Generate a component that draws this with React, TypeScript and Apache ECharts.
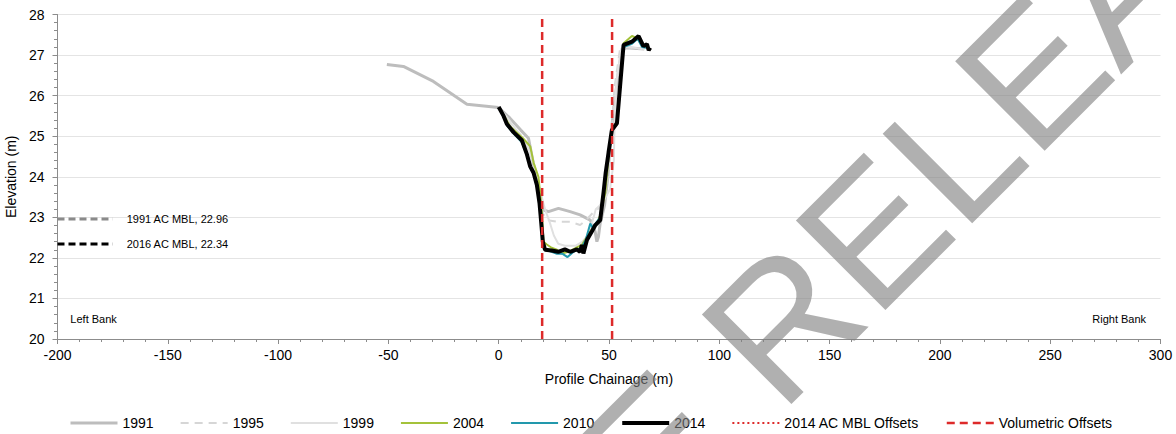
import React, { useEffect, useRef } from "react";
import * as echarts from "echarts";

// ---- data ----
const legendNames = ["1991", "1995", "1999", "2004", "2010", "2014", "2014 AC MBL Offsets", "Volumetric Offsets"];

const profile1991: number[][] = [
  [-50.7, 26.77], [-43.2, 26.72], [-29.6, 26.35], [-14.4, 25.79], [-0.1, 25.71], [5, 25.45], [10, 25.15],
  [13.5, 24.95], [15.7, 24.33], [17.3, 23.9], [18.8, 23.6], [20.3, 23.18], [22.6, 23.14], [27.1, 23.22],
  [32.4, 23.14], [36.9, 23.06], [41.5, 22.93], [43.7, 22.65], [44.5, 22.4], [45.2, 22.52], [46, 22.85],
  [48, 23.3], [49.5, 24.0], [50.5, 24.8], [52, 25.6], [54.5, 26.7], [56, 27.15], [58, 27.18], [66, 27.15],
];
const profile1995: number[][] = [
  [0, 25.7], [4, 25.4], [8, 25.15], [12, 24.9], [15, 24.45], [17, 24.05], [18.5, 23.5], [20, 23.1],
  [21.1, 22.98], [23, 22.92], [26.4, 22.89], [32.4, 22.89], [36.9, 22.81], [39, 22.9], [42.5, 23.1],
  [45.2, 23.22], [48, 23.5], [50, 24.2], [51, 25.0], [52.5, 26.2], [55, 27.15], [58, 27.2], [65, 27.15],
];
const profile1999: number[][] = [
  [0, 25.72], [4, 25.45], [8, 25.15], [12, 24.85], [15, 24.5], [17, 24.1], [18.5, 23.7], [19.5, 23.5],
  [21.1, 23.18], [23, 22.9], [25, 22.55], [27, 22.35], [30, 22.3], [35, 22.3], [38, 22.4], [41, 22.6],
  [44, 23.2], [47, 23.35], [50.5, 23.7], [52.2, 24.4], [52.6, 25.5], [53.3, 26.3], [55.5, 27.15], [58, 27.2], [66, 27.15],
];
const profile2004: number[][] = [
  [0, 25.7], [3, 25.45], [5, 25.25], [8, 25.1], [11, 24.95], [14.3, 24.75], [15.8, 24.35], [18, 24.0],
  [18.8, 23.6], [19.6, 23.1], [20.3, 22.4], [21.8, 22.33], [24, 22.25], [26.4, 22.2], [28.6, 22.11],
  [31.6, 22.15], [35.4, 22.26], [37.7, 22.32], [40, 22.52], [41.5, 22.65], [44.5, 22.85], [46, 23.05],
  [48.3, 23.6], [50, 24.6], [51.5, 25.2], [53.8, 25.35], [56.6, 27.29], [60.4, 27.47], [62.6, 27.42], [65, 27.25], [67, 27.2],
];
const profile2010: number[][] = [
  [0, 25.7], [2.5, 25.45], [4, 25.25], [7, 25.05], [10.5, 24.85], [13, 24.5], [14.5, 24.2], [16, 24.05],
  [17.5, 23.7], [18.7, 23.2], [19.6, 22.7], [20.3, 22.3], [21.1, 22.2], [24, 22.15], [26.4, 22.1], [29, 22.1],
  [31.2, 22.02], [33.9, 22.15], [35.5, 22.2], [37.7, 22.26], [39.5, 22.45], [41.5, 22.85], [42.5, 22.75],
  [44, 22.85], [46, 23.0], [47.5, 23.65], [48.7, 24.15], [50, 24.7], [51.4, 25.15], [53.6, 25.3],
  [56.6, 27.2], [60.4, 27.28], [63, 27.4], [65, 27.2], [67, 27.18],
];
const profile2014: number[][] = [
  [0, 25.72], [2.2, 25.5], [3.7, 25.3], [6.7, 25.1], [10.5, 24.9], [12.8, 24.55], [14.3, 24.25], [15.8, 24.1],
  [17.3, 23.8], [18.5, 23.35], [19.3, 22.85], [20, 22.4], [21, 22.2], [24, 22.18], [27, 22.15], [30, 22.21],
  [32.4, 22.15], [35.4, 22.21], [36.9, 22.15], [37.7, 22.32], [38.4, 22.11], [40, 22.44], [42.2, 22.65],
  [43.7, 22.8], [46, 22.93], [47.5, 23.6], [48.5, 24.1], [49.8, 24.6], [51.3, 25.15], [53.6, 25.32],
  [56.6, 27.25], [60.4, 27.33], [63.4, 27.47], [65.6, 27.22], [67.2, 27.27], [68, 27.12], [68.7, 27.18],
];
const volumetricOffsets = [19.7, 51.4];
const offsetElevations = [20, 28];
const mblLevels = [
  { label: "1991 AC MBL", value: 22.96 },
  { label: "2016 AC MBL", value: 22.34 },
];
const mblExtent = [-200, -175];
const bankLabels = [
  { text: "Left Bank", x: -194.2, y: 20.5 },
  { text: "Right Bank", x: 293.5, y: 20.5 },
];

const FONT = "'Liberation Sans', Arial, Helvetica, sans-serif";

export default function App() {
  const ref = useRef<HTMLDivElement>(null);
  useEffect(() => {
    if (!ref.current) return;
    const chart = echarts.init(ref.current, undefined, { renderer: "svg" });
    const axisGrey = "#8c8c8c";
    const red = "#dd2a2a";
    const series: any[] = [
      { name: "1991", data: profile1991, color: "#bdbdbd", lineStyle: { width: 3, color: "#bdbdbd" } },
      { name: "1995", data: profile1995, color: "#d6d6d6", lineStyle: { width: 2, color: "#d6d6d6", type: [8, 6] } },
      { name: "1999", data: profile1999, color: "#e0e0e0", lineStyle: { width: 2, color: "#e0e0e0" } },
      { name: "2004", data: profile2004, color: "#a4c23a", lineStyle: { width: 2, color: "#a4c23a" } },
      { name: "2010", data: profile2010, color: "#2298ac", lineStyle: { width: 2, color: "#2298ac" } },
      { name: "2014", data: profile2014, color: "#000000", lineStyle: { width: 4, color: "#000000" } },
      { name: "2014 AC MBL Offsets", data: [], color: red, lineStyle: { width: 2, color: red, type: [2, 3] } },
      ...volumetricOffsets.map((x) => ({
        name: "Volumetric Offsets",
        data: offsetElevations.map((y) => [x, y]),
        color: red,
        lineStyle: { width: 2.5, color: red, type: [8, 5] },
      })),
      ...mblLevels.map((m, i) => ({
        name: m.label,
        data: mblExtent.map((x) => [x, m.value]),
        color: i === 0 ? "#8a8a8a" : "#000000",
        lineStyle: { width: 3, color: i === 0 ? "#8a8a8a" : "#000000", type: [7, 4] },
        endLabel: {
          show: true,
          formatter: `${m.label}, ${m.value.toFixed(2)}`,
          distance: 14,
          fontSize: 11,
          fontFamily: FONT,
          color: "#000",
        },
      })),
    ].map((s) => ({
      type: "line",
      symbol: "none",
      showSymbol: false,
      silent: true,
      ...s,
    }));
    series.push({
      type: "scatter",
      name: "banks",
      silent: true,
      symbol: "circle",
      symbolSize: 0.1,
      itemStyle: { color: "transparent" },
      data: bankLabels.map((b, i) => ({
        value: [b.x, b.y],
        label: {
          show: true,
          formatter: b.text,
          position: i === 0 ? "right" : "left",
          distance: 0,
          fontSize: 11,
          fontFamily: FONT,
          color: "#000",
          opacity: 1,
        },
      })),
    });

    chart.setOption({
      animation: false,
      textStyle: { fontFamily: FONT },
      grid: {
        left: 57.5,
        right: 15.5,
        top: 14.5,
        bottom: 95,
        containLabel: false,
        outerBoundsMode: "none",
      },
      xAxis: {
        type: "value",
        min: -200,
        max: 300,
        interval: 50,
        name: "Profile Chainage (m)",
        nameLocation: "middle",
        nameGap: 33,
        nameTextStyle: { fontSize: 14, color: "#000", fontFamily: FONT },
        axisLine: { show: true, onZero: false, lineStyle: { color: axisGrey } },
        axisTick: { show: true, length: 5, lineStyle: { color: axisGrey } },
        minorTick: { show: true, splitNumber: 5, length: 3, lineStyle: { color: axisGrey } },
        axisLabel: { fontSize: 14, color: "#000", margin: 9, fontFamily: FONT },
        splitLine: { show: false },
      },
      yAxis: {
        type: "value",
        min: 20,
        max: 28,
        interval: 1,
        name: "Elevation (m)",
        nameLocation: "middle",
        nameGap: 36,
        nameTextStyle: { fontSize: 14, color: "#000", fontFamily: FONT },
        axisLine: { show: true, onZero: false, lineStyle: { color: axisGrey } },
        axisTick: { show: true, length: 5, lineStyle: { color: axisGrey } },
        minorTick: { show: true, splitNumber: 5, length: 3.5, lineStyle: { color: axisGrey } },
        axisLabel: { fontSize: 14, color: "#000", margin: 13, fontFamily: FONT },
        splitLine: { show: true, lineStyle: { color: "#e4e4e4", width: 1 } },
      },
      legend: {
        data: legendNames,
        left: 64,
        top: 411,
        itemWidth: 47,
        itemHeight: 14,
        itemGap: 26,
        selectedMode: false,
        lineStyle: { width: "inherit" },
        itemStyle: { color: "transparent", borderColor: "transparent", borderWidth: 0, opacity: 0 },
        textStyle: { fontSize: 14, color: "#000", fontFamily: FONT },
      },
      graphic: [
        {
          type: "text",
          x: 432,
          y: 673,
          rotation: Math.PI / 4,
          z: 100,
          silent: true,
          style: {
            text: "PRE RELEASE",
            fontSize: 184,
            fontFamily: FONT,
            fill: "rgba(128,128,128,0.62)",
            align: "left",
            verticalAlign: "middle",
          },
        },
      ],
      series,
    });
    return () => chart.dispose();
  }, []);
  return (
    <div
      ref={ref}
      style={{ position: "fixed", left: 0, top: 0, width: 1176, height: 434, background: "#fff" }}
    />
  );
}
